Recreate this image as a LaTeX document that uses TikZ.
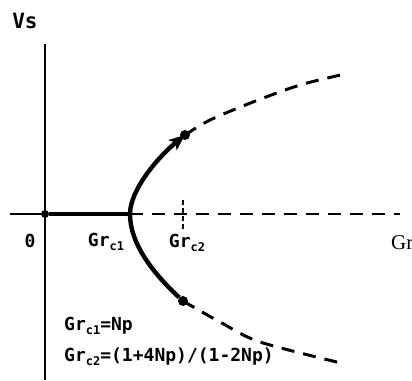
\documentclass[tikz,border=0pt]{standalone}
\usepackage{fontspec}
\newfontfamily\lblfont{DejaVu Sans Mono}
\newfontfamily\axfont{Liberation Serif}
\usetikzlibrary{arrows.meta,positioning}
\newcommand{\grc}[1]{Gr\raisebox{-0.35ex}{\fontsize{12}{13}\selectfont c#1}}

\begin{document}
\begin{tikzpicture}[
    x=1pt, y=-1pt,
    axis/.style={line width=1.8pt},
    branch/.style={line width=4.4pt},
    dashbranch/.style={line width=3pt, dash pattern=on 13pt off 9pt},
    dot/.style={circle, fill=black, inner sep=0pt, minimum size=10pt},
    lbl/.style={font=\lblfont\bfseries\fontsize{18}{21}\selectfont, inner sep=0pt}
]
\useasboundingbox (0,0) rectangle (412,380);

% Ejes
\coordinate (left) at (10,214);
\coordinate (vert) at (130,214);
\coordinate (right) at (400,214);
\coordinate (top) at (45,44);
\coordinate (bottom) at (45,380);
\node[dot, minimum size=8pt] (orig) at (45,214) {};
\draw[axis] (top) -- (bottom);
\draw[axis] (left) -- (orig);
\draw[branch, line width=4pt] (orig) -- (vert);
\draw[dashbranch, line width=2.6pt] (vert) -- (right);

% Marca Grc2
\coordinate (tickup) at (183,200);
\coordinate (tickdn) at (183,229);
\draw[line width=1.8pt, dash pattern=on 5pt off 3pt] (tickup) -- (tickdn);

% Puntos
\node[dot] (upper) at (185,135) {};
\node[dot] (lower) at (183,301) {};

% Curva
\draw[branch] (lower) .. controls (155,275) and (130,245) .. (vert);
\draw[branch, -{Stealth[length=16pt, width=13pt, inset=4pt]}]
    (vert) .. controls (130,190) and (158,157) .. (upper.center);
\draw[dashbranch] plot[smooth] coordinates {(185,135) (210,120) (253,102) (300,85) (345,74)};
\draw[dashbranch] plot[smooth] coordinates {(183,301) (220,322) (260,342) (345,364)};

% Textos
\node[lbl, font=\lblfont\bfseries\fontsize{21}{24}\selectfont] (vs) at (25,21) {Vs};
\node[lbl] (zero) at (30,241) {0};
\node[lbl] (grc1) at (106,242) {\grc{1}};
\node[lbl] (grc2) at (187,243) {\grc{2}};
\node[font=\axfont\fontsize{21}{24}\selectfont, inner sep=0pt, anchor=west] (gr) at (391,243) {Gr};
\node[lbl, anchor=west] (eq1) at (64,326) {\grc{1}=Np};
\node[lbl, anchor=west] (eq2) at (64,357) {\grc{2}=(1+4Np)/(1-2Np)};

\end{tikzpicture}
\end{document}
